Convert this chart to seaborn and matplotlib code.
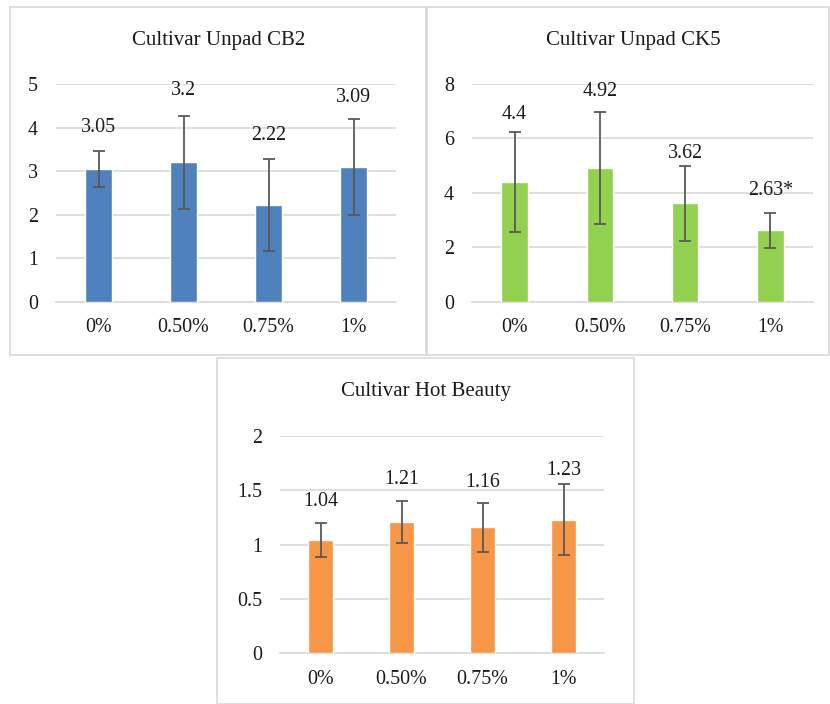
import matplotlib
matplotlib.use("Agg")
import matplotlib.pyplot as plt
from matplotlib.patches import Rectangle
import seaborn as sns
import numpy as np

sns.set_theme(style="white")
plt.rcParams['font.family'] = ['Liberation Serif', 'DejaVu Serif']

categories = ["0%", "0.50%", "0.75%", "1%"]

cb2_values = [3.05, 3.20, 2.22, 3.09]
cb2_err = [0.41, 1.07, 1.05, 1.10]
cb2_labels = ["3.05", "3.2", "2.22", "3.09"]

ck5_values = [4.40, 4.92, 3.62, 2.63]
ck5_err = [1.83, 2.05, 1.38, 0.64]
ck5_labels = ["4.4", "4.92", "3.62", "2.63*"]

hb_values = [1.04, 1.21, 1.16, 1.23]
hb_err = [0.155, 0.195, 0.225, 0.325]
hb_labels = ["1.04", "1.21", "1.16", "1.23"]

W, H = 830, 704
fig = plt.figure(figsize=(W / 100, H / 100), dpi=100)


def fx(px):
    return px / W


def fy(py):
    return 1 - py / H


panels = [
    dict(title="Cultivar Unpad CB2", vals=cb2_values, err=cb2_err, labels=cb2_labels,
         color="#4F81BD", ymax=5, step=1,
         ax=(56, 84, 396, 301.7), box=(10, 7, 427, 355), title_xy=(218.5, 40),
         offs=[24, 25, 24, 22]),
    dict(title="Cultivar Unpad CK5", vals=ck5_values, err=ck5_err, labels=ck5_labels,
         color="#92D050", ymax=8, step=2,
         ax=(472, 84, 813, 301.7), box=(426, 7, 829, 355), title_xy=(633, 40),
         offs=[18, 21, 12, 22]),
    dict(title="Cultivar Hot Beauty", vals=hb_values, err=hb_err, labels=hb_labels,
         color="#F79646", ymax=2, step=0.5,
         ax=(280, 436, 604, 653.3), box=(217, 358, 634, 704), title_xy=(425.5, 392),
         offs=[22, 21, 20, 14]),
]

for p in panels:
    bx0, by0, bx1, by1 = p["box"]
    fig.patches.append(Rectangle((fx(bx0), fy(by1)), fx(bx1 - bx0), (by1 - by0) / H,
                                 transform=fig.transFigure, facecolor="none",
                                 edgecolor="#D9D9D9", linewidth=1.2, zorder=0))

for p in panels:
    x0, y0, x1, y1 = p["ax"]
    ax = fig.add_axes([fx(x0), fy(y1), fx(x1 - x0), (y1 - y0) / H])
    ax.set_facecolor("none")
    sns.barplot(x=categories, y=p["vals"], color=p["color"], saturation=1,
                width=0.31, errorbar=None, ax=ax, zorder=3)
    xs = np.arange(len(categories))
    ax.errorbar(xs, p["vals"], yerr=p["err"], fmt="none", ecolor="#595959",
                elinewidth=1.3, capsize=4.6, capthick=1.3, zorder=4)
    for xi, v, e, lab, off in zip(xs, p["vals"], p["err"], p["labels"], p["offs"]):
        ax.annotate(lab, xy=(xi, v + e), xytext=(0, off * 0.72), textcoords="offset points",
                    ha="center", va="center", fontsize=14.4, color="#1a1a1a")
    ax.set_xlim(-0.5, len(categories) - 0.5)
    ax.set_ylim(0, p["ymax"])
    ticks = np.arange(0, p["ymax"] + p["step"] / 2, p["step"])
    ax.set_yticks(ticks)
    ax.set_yticklabels([f"{t:g}" for t in ticks])
    ax.yaxis.grid(True, color="#D9D9D9", linewidth=1.2, zorder=0)
    ax.xaxis.grid(False)
    ax.set_axisbelow(True)
    for s in ["top", "right", "left"]:
        ax.spines[s].set_visible(False)
    ax.spines["bottom"].set_color("#D9D9D9")
    ax.spines["bottom"].set_linewidth(1.2)
    ax.tick_params(axis="both", length=0, labelsize=14.4, labelcolor="#1a1a1a")
    ax.tick_params(axis="y", pad=13)
    ax.tick_params(axis="x", pad=12)
    ax.set_xlabel("")
    ax.set_ylabel("")
    tx, ty = p["title_xy"]
    fig.text(fx(tx), fy(ty), p["title"], ha="center", va="center", fontsize=15,
             color="#1a1a1a")

fig.savefig("out.png", dpi=100, facecolor="white")
